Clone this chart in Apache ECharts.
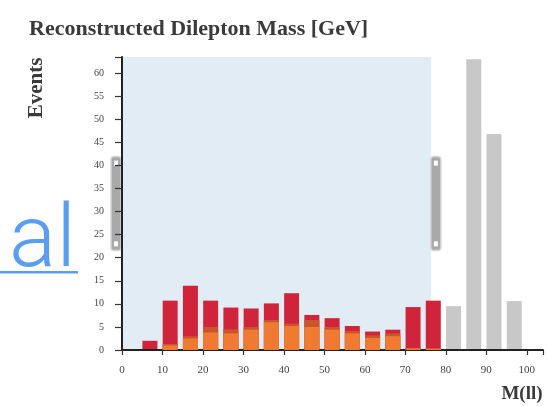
<!DOCTYPE html>
<html><head><meta charset="utf-8">
<script src="https://cdn.jsdelivr.net/npm/echarts@6/dist/echarts.min.js"></script>
<style>html,body{margin:0;padding:0;background:#fff}#c{width:548px;height:406px}</style>
</head><body><div id="c"></div>
<script>
const binLow = [5,10,15,20,25,30,35,40,45,50,55,60,65,70,75];
const orangeVals = [0,1.0,2.5,3.8,3.6,4.4,6.0,5.2,5.0,4.4,3.6,2.6,3.0,0.3,0.3];
const middleVals = [0,0.3,0.5,1.2,0.9,0.6,0.5,0.5,1.5,0.6,0.5,0.6,0.6,0.2,0];
const redVals = [2,9.4,10.9,5.7,4.7,4.0,3.6,6.6,1.1,1.9,1.1,0.8,0.8,8.8,10.4];
const greyBinLow = [80,85,90,95];
const greyVals = [9.5,63,46.8,10.6];
const selectionRange = [0, 76.3];
const titleText = 'Reconstructed Dilepton Mass [GeV]';
const yName = 'Events';
const xName = 'M(ll)';
const overlayText = 'al';

const BAR_OFFSET = 1.9;
const layers = [orangeVals, middleVals, redVals];
// cumulative stack tops (drawn back-to-front so lower layers cover the upper ones)
const stackTops = layers.map((_, li) => binLow.map((_, i) => layers.slice(0, li + 1).reduce((s, arr) => s + arr[i], 0)));
const pair = (xs, vs) => xs.map((x, i) => [x + BAR_OFFSET, +vs[i].toFixed(2)]);
const serif = '"Liberation Serif", "DejaVu Serif", serif';
const barCommon = { type: 'bar', barWidth: 15, barGap: '-100%' };

const chart = echarts.init(document.getElementById('c'), null, { renderer: 'canvas' });
chart.setOption({
  animation: false,
  backgroundColor: '#ffffff',
  title: { text: titleText, left: 24, top: 13,
    textStyle: { fontFamily: serif, fontWeight: 'bold', fontSize: 22, color: '#3a3a3a' } },
  grid: { left: 122, right: 5, top: 57, bottom: 56, containLabel: false },
  xAxis: {
    type: 'value', min: 0, max: 104, interval: 10, z: 5,
    axisLine: { lineStyle: { color: '#222', width: 2 } },
    axisTick: { show: true, length: 5, lineStyle: { color: '#333', width: 1.2 } },
    splitLine: { show: false },
    axisLabel: { margin: 15, fontFamily: serif, fontSize: 11, color: '#444',
      formatter: v => (v % 10 === 0 ? String(v) : '') }
  },
  yAxis: {
    type: 'value', min: 0, max: 63.5, interval: 5, z: 5,
    axisLine: { show: true, lineStyle: { color: '#222', width: 2 } },
    axisTick: { show: true, length: 7, lineStyle: { color: '#333', width: 1.2 } },
    splitLine: { show: false },
    axisLabel: { margin: 18, fontFamily: serif, fontSize: 10, color: '#444',
      formatter: v => (v % 5 === 0 ? String(v) : '') }
  },
  graphic: [
    { type: 'text', x: 37, y: 88, rotation: Math.PI / 2,
      style: { text: yName, font: 'bold 21px ' + serif, fill: '#3a3a3a', textAlign: 'center', textVerticalAlign: 'middle', align: 'center', verticalAlign: 'middle' } },
    { type: 'text', x: 522, y: 394,
      style: { text: xName, font: 'bold 19px ' + serif, fill: '#3a3a3a', textAlign: 'center', textVerticalAlign: 'middle', align: 'center', verticalAlign: 'middle' } },
    { type: 'text', x: 9, y: 200, z: 100,
      style: { text: overlayText, font: '300 88px Roboto, "Open Sans", sans-serif', fill: '#5b9ef0', textAlign: 'left', textVerticalAlign: 'top', align: 'left', verticalAlign: 'top' } },
    { type: 'rect', z: 100, shape: { x: 0, y: 271, width: 78, height: 2.5 }, style: { fill: '#5b9ef0' } }
  ],
  series: [
    { type: 'custom', z: 1, clip: false, data: [[selectionRange[0], selectionRange[1], 0]],
      encode: { x: [0, 1], y: 2 },
      renderItem: (params, api) => {
        const cs = params.coordSys;
        const a = api.coord([api.value(0), 0]);
        const b = api.coord([api.value(1), 0]);
        const hh = cs.height * 0.32, hy = cs.y + (cs.height - hh) / 2, hw = 10;
        const handle = x => ({ type: 'group', children: [
          { type: 'rect', shape: { x: x, y: hy, width: hw, height: hh, r: 3 }, style: { fill: '#a8a8a8', stroke: '#d4d4d4', lineWidth: 1.5 } },
          { type: 'rect', shape: { x: x + 3, y: hy + 4, width: 4, height: 5 }, style: { fill: '#fff' } },
          { type: 'rect', shape: { x: x + 3, y: hy + hh - 9, width: 4, height: 5 }, style: { fill: '#fff' } }
        ] });
        return { type: 'group', children: [
          { type: 'rect', shape: { x: a[0], y: cs.y, width: b[0] - a[0], height: cs.height }, style: { fill: '#e2ecf5' } },
          handle(a[0] - hw - 1), handle(b[0])
        ] };
      } },
    Object.assign({}, barCommon, { name: 'red', z: 3, data: pair(binLow, stackTops[2]), itemStyle: { color: '#d0243a' } }),
    Object.assign({}, barCommon, { name: 'middle', z: 4, data: pair(binLow, stackTops[1]), itemStyle: { color: '#c9552c' } }),
    Object.assign({}, barCommon, { name: 'orange', z: 5, data: pair(binLow, stackTops[0]), itemStyle: { color: '#f07a32' } }),
    Object.assign({}, barCommon, { name: 'grey', z: 3, data: pair(greyBinLow, greyVals), itemStyle: { color: '#c8c8c8' } })
  ]
});
</script>
</body></html>
